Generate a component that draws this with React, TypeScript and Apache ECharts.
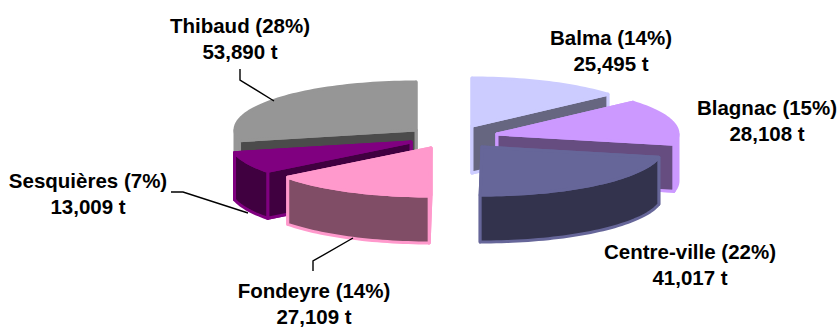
import React, { useEffect, useRef } from "react";
import * as echarts from "echarts";

// Tonnage per site, clockwise from twelve o'clock
const sites = ["Balma", "Blagnac", "Centre-ville", "Fondeyre", "Sesquières", "Thibaud"];
const tonnes = [25495, 28108, 41017, 27109, 13009, 53890];
const shares = [14, 15, 22, 14, 7, 28];
const topColors = ["#CCCCFF", "#CC99FF", "#666699", "#FF99CC", "#800080", "#969696"];
const wallColors = ["#666680", "#664D80", "#33334D", "#804D66", "#400040", "#4B4B4B"];

// Pie geometry: ellipse radii, wall height and each slice's exploded apex
const RX = 181;
const RY = 48;
const DEPTH = 47;
const BORDER = 3;
const apexes = [
  [472, 126],
  [497, 134],
  [482, 147],
  [431, 148],
  [411, 142],
  [416, 130],
];

// Slices are painted from the back of the scene to the front
const paintOrder = [5, 4, 3, 0, 1, 2];

// Label centres and leader lines
const labelCenters = [
  [611, 50],
  [767, 120],
  [690, 264.5],
  [314, 303.5],
  [88, 193.5],
  [240, 38],
];
const leaders = [
  [[240, 69], [240, 80], [274, 101]],
  [[171, 192], [183, 192], [248, 213]],
  [[313, 271], [313, 261], [353, 238]],
];

const total = tonnes.reduce((a, b) => a + b, 0);
const TAU = Math.PI * 2;

function point(apex: number[], theta: number, dy = 0) {
  return [apex[0] + RX * Math.sin(theta), apex[1] - RY * Math.cos(theta) + dy];
}

function arc(apex: number[], from: number, to: number, dy = 0) {
  const steps = Math.max(2, Math.ceil(Math.abs(to - from) / 0.03));
  const pts: number[][] = [];
  for (let i = 0; i <= steps; i++) pts.push(point(apex, from + ((to - from) * i) / steps, dy));
  return pts;
}

function poly(points: number[][], fill: string, stroke: string) {
  return {
    type: "polygon",
    shape: { points },
    style: { fill, stroke, lineWidth: BORDER, lineJoin: "round" },
  };
}

function renderSlice(_params: any, api: any) {
  const index = api.value(0) as number;
  const start = (api.value(1) as number) * TAU;
  const end = (api.value(2) as number) * TAU;
  const apex = apexes[index];
  const top = topColors[index];
  const wall = wallColors[index];
  const low = [apex[0], apex[1] + DEPTH];
  const children: any[] = [];

  const quad = (theta: number, fill: string) =>
    poly([apex, point(apex, theta), point(apex, theta, DEPTH), low], fill, top);

  // Front-facing rim between 90° and 270°; narrow rims stay in the border colour
  const rimFrom = Math.max(start, Math.PI / 2);
  const rimTo = Math.min(end, (Math.PI * 3) / 2);
  const rim =
    rimTo > rimFrom
      ? [...arc(apex, rimFrom, rimTo), ...arc(apex, rimTo, rimFrom, DEPTH)]
      : null;
  const rimIsNarrow = rimTo - rimFrom < 0.3;

  // Border-coloured underlay so that the silhouette carries the outline
  children.push(quad(start, top), quad(end, top));
  if (rim && rimIsNarrow) children.push(poly(rim, top, top));

  // Cut faces turned towards the viewer, then the rim in front of them
  if (end > 0 && end < Math.PI) children.push(quad(end, wall));
  if (start > Math.PI && start < TAU) children.push(quad(start, wall));
  if (rim && !rimIsNarrow) children.push(poly(rim, wall, top));

  children.push(poly([apex, ...arc(apex, start, end)], top, top));
  return { type: "group", children };
}

export default function App() {
  const ref = useRef<HTMLDivElement>(null);

  useEffect(() => {
    const chart = echarts.init(ref.current!, undefined, { renderer: "svg" });
    let cumulative = 0;
    const spans = tonnes.map((t) => {
      const from = cumulative / total;
      cumulative += t;
      return [from, cumulative / total];
    });

    const labels = sites.map((site, i) => ({
      type: "text",
      x: labelCenters[i][0],
      y: labelCenters[i][1],
      style: {
        text: `${site} (${shares[i]}%)\n${tonnes[i].toLocaleString("en-US")} t`,
        fontFamily: "Liberation Sans",
        fontWeight: "bold",
        fontSize: 20.5,
        lineHeight: 26,
        fill: "#000",
        align: "center",
        verticalAlign: "middle",
      },
    }));
    const lines = leaders.map((points) => ({
      type: "polyline",
      z: 10,
      shape: { points },
      style: { fill: "none", stroke: "#000", lineWidth: 1.4 },
    }));

    chart.setOption({
      animation: false,
      backgroundColor: "#fff",
      graphic: [...lines, ...labels],
      series: [
        {
          type: "custom",
          coordinateSystem: "none",
          renderItem: renderSlice,
          silent: true,
          data: paintOrder.map((i) => [i, spans[i][0], spans[i][1]]),
        },
      ],
    });
    return () => chart.dispose();
  }, []);

  return <div ref={ref} style={{ position: "fixed", left: 0, top: 0, width: 839, height: 327 }} />;
}
